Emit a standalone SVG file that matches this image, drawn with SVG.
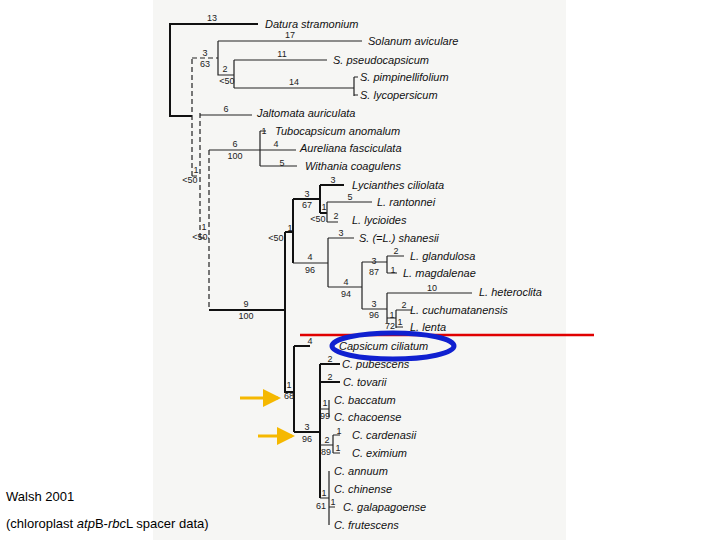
<svg xmlns="http://www.w3.org/2000/svg" width="720" height="540" viewBox="0 0 720 540">
<style>
.t{font-family:"Liberation Sans",Arial,sans-serif;font-size:11px;font-style:italic;fill:#111}
.n{font-family:"Liberation Sans",Arial,sans-serif;font-size:9px;fill:#222;text-anchor:middle}
.b{stroke:#111;stroke-width:2;fill:none}
.s{stroke:#222;stroke-width:1.2;fill:none}
.d{stroke:#222;stroke-width:1.2;fill:none;stroke-dasharray:5,3}
.c{font-family:"Liberation Sans",Arial,sans-serif;font-size:13px;fill:#000}
</style>
<defs><marker id="ar" markerWidth="6" markerHeight="6" refX="5" refY="3" orient="auto"><path d="M0,0L6,3L0,6z" fill="#f5b800"/></marker></defs>
<rect width="720" height="540" fill="#fff"/>
<rect x="153" y="0" width="413" height="540" fill="#f6f6f4"/>
<g id="connectors">
<path class="b" d="M258,24H170V116H192"/>
<path class="d" d="M192,59V176M200,113V238M209,150V310M192,58H218M192,176H200M200,238H209"/>
<path class="s" d="M218,41H362M218,41V75H234M234,60V88M234,60H327M234,88H354M354,77V96M354,77H358M354,95H358"/>
<path class="s" d="M200,115H252M209,150H296M260,131V166M260,131H266M260,166H297"/>
<path class="b" d="M209,310H286M285,232V392H294M294,346V432M294,346H310M294,432H320"/>
<path class="b" d="M285,232H293M293,199V263M293,199H320M320,185V213M320,185H344M320,213H327"/>
<path class="s" d="M327,202V222M327,202H372M327,222H338"/>
<path class="s" d="M293,263H328M328,238V287M328,238H354M328,287H362M362,262V309M362,262H387M387,256V273M387,256H404M387,273H397M362,309H387M387,293V323M387,293H472M387,318H396M396,310V328M396,310H412M396,327H403"/>
<path class="b" d="M320,364V498M320,364H340M320,382H340"/>
<path class="s" d="M320,409H329M329,400V417M320,445H333M333,435V453M333,435H340M333,453H340M320,498H329M329,471V525M329,507H335"/>
</g>
<g id="highlights">
<line x1="300" y1="335" x2="594" y2="335" stroke="#e00000" stroke-width="2.5"/>
<ellipse cx="393" cy="346" rx="61" ry="13" fill="none" stroke="#1020d0" stroke-width="5"/>
<line x1="240" y1="398" x2="278" y2="398" stroke="#f5b800" stroke-width="3" marker-end="url(#ar)"/>
<line x1="258" y1="436" x2="292" y2="436" stroke="#f5b800" stroke-width="3" marker-end="url(#ar)"/>
</g>
<g id="labels-num">
<text class="n" x="212" y="21">13</text><text class="n" x="290" y="38">17</text><text class="n" x="282" y="57">11</text>
<text class="n" x="205" y="56">3</text><text class="n" x="205" y="67">63</text>
<text class="n" x="225" y="72">2</text><text class="n" x="227" y="84">&lt;50</text><text class="n" x="294" y="85">14</text>
<text class="n" x="226" y="112">6</text><text class="n" x="264" y="134">1</text>
<text class="n" x="235" y="147">6</text><text class="n" x="235" y="159">100</text><text class="n" x="276" y="147">4</text><text class="n" x="282" y="166">5</text>
<text class="n" x="196" y="173">1</text><text class="n" x="190" y="183">&lt;50</text>
<text class="n" x="204" y="230">1</text><text class="n" x="200" y="240">&lt;50</text>
<text class="n" x="246" y="307">9</text><text class="n" x="246" y="319">100</text>
<text class="n" x="290" y="231">1</text><text class="n" x="276" y="241">&lt;50</text>
<text class="n" x="307" y="197">3</text><text class="n" x="307" y="208">67</text><text class="n" x="333" y="183">3</text>
<text class="n" x="324" y="210">1</text><text class="n" x="318" y="222">&lt;50</text><text class="n" x="350" y="200">5</text><text class="n" x="336" y="219">2</text>
<text class="n" x="310" y="260">4</text><text class="n" x="310" y="273">96</text><text class="n" x="341" y="236">3</text>
<text class="n" x="346" y="285">4</text><text class="n" x="346" y="297">94</text>
<text class="n" x="374" y="264">3</text><text class="n" x="374" y="275">87</text><text class="n" x="396" y="254">2</text><text class="n" x="393" y="273">1</text>
<text class="n" x="374" y="307">3</text><text class="n" x="374" y="318">96</text><text class="n" x="432" y="291">10</text>
<text class="n" x="392" y="318">1</text><text class="n" x="390" y="329">72</text><text class="n" x="400" y="325">1</text><text class="n" x="404" y="308">2</text>
<text class="n" x="310" y="344">4</text>
<text class="n" x="289" y="388">1</text><text class="n" x="289" y="399">68</text>
<text class="n" x="307" y="430">3</text><text class="n" x="307" y="442">96</text>
<text class="n" x="330" y="362">2</text><text class="n" x="330" y="380">2</text>
<text class="n" x="325" y="406">1</text><text class="n" x="325" y="419">99</text>
<text class="n" x="327" y="443">2</text><text class="n" x="326" y="455">89</text><text class="n" x="339" y="434">1</text><text class="n" x="338" y="451">1</text>
<text class="n" x="324" y="496">1</text><text class="n" x="321" y="509">61</text><text class="n" x="333" y="505">1</text>
</g>
<g id="leaves">
<text class="t" x="265" y="28">Datura stramonium</text>
<text class="t" x="368" y="45">Solanum aviculare</text>
<text class="t" x="333" y="64">S. pseudocapsicum</text>
<text class="t" x="360" y="81">S. pimpinellifolium</text>
<text class="t" x="360" y="99">S. lycopersicum</text>
<text class="t" x="257" y="117">Jaltomata auriculata</text>
<text class="t" x="275" y="135">Tubocapsicum anomalum</text>
<text class="t" x="300" y="152">Aureliana fasciculata</text>
<text class="t" x="305" y="170">Withania coagulens</text>
<text class="t" x="352" y="189">Lycianthes ciliolata</text>
<text class="t" x="377" y="206">L. rantonnei</text>
<text class="t" x="352" y="224">L. lycioides</text>
<text class="t" x="359" y="242">S. (=L.) shanesii</text>
<text class="t" x="410" y="260">L. glandulosa</text>
<text class="t" x="403" y="277">L. magdalenae</text>
<text class="t" x="479" y="296">L. heteroclita</text>
<text class="t" x="410" y="314">L. cuchumatanensis</text>
<text class="t" x="410" y="331">L. lenta</text>
<text class="t" x="339" y="350">Capsicum ciliatum</text>
<text class="t" x="342" y="368">C. pubescens</text>
<text class="t" x="343" y="386">C. tovarii</text>
<text class="t" x="334" y="404">C. baccatum</text>
<text class="t" x="334" y="421">C. chacoense</text>
<text class="t" x="352" y="439">C. cardenasii</text>
<text class="t" x="352" y="457">C. eximium</text>
<text class="t" x="334" y="475">C. annuum</text>
<text class="t" x="334" y="493">C. chinense</text>
<text class="t" x="343" y="511">C. galapagoense</text>
<text class="t" x="334" y="529">C. frutescens</text>
</g>
<text class="c" x="6" y="501">Walsh 2001</text>
<text class="c" x="6" y="528">(chloroplast <tspan font-style="italic">atp</tspan>B-<tspan font-style="italic">rbc</tspan>L spacer data)</text>
</svg>
